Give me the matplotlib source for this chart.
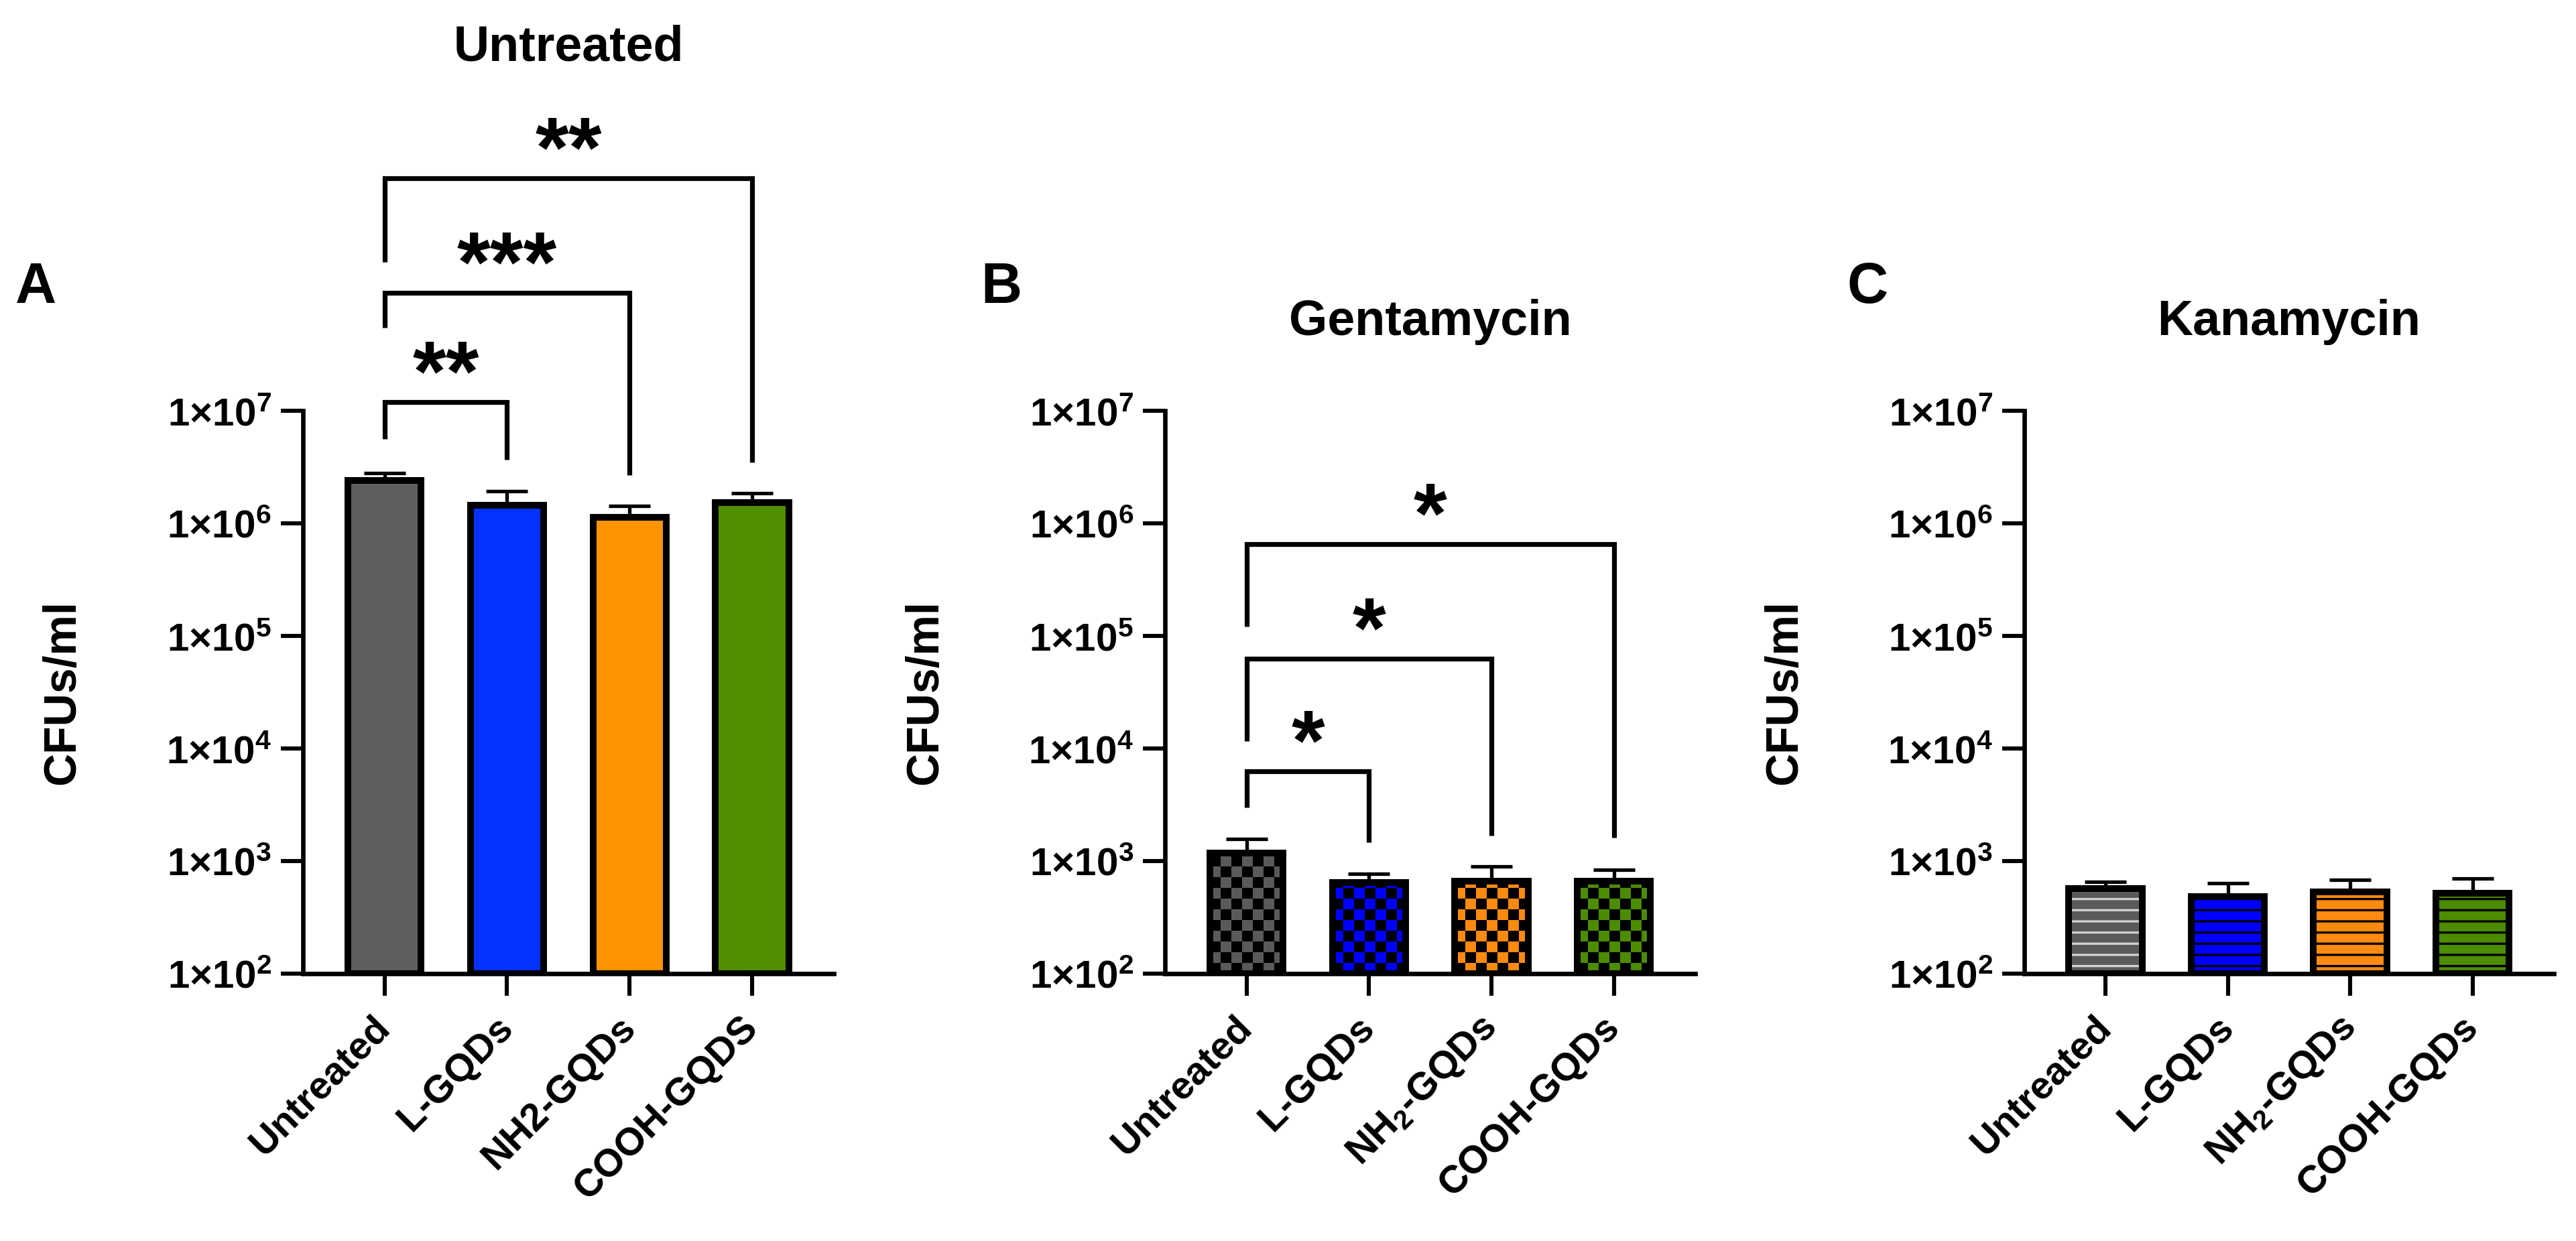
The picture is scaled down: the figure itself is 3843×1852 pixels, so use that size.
import numpy as np
import matplotlib
matplotlib.use("Agg")
import matplotlib.pyplot as plt
from matplotlib.patches import Rectangle
from matplotlib.collections import PatchCollection
from matplotlib.transforms import IdentityTransform
from matplotlib.ticker import FixedLocator, NullLocator

plt.rcParams.update({
    "font.family": ["Liberation Sans", "DejaVu Sans"],
    "font.weight": "bold",
    "mathtext.fontset": "custom",
    "mathtext.rm": "Liberation Sans:bold",
    "mathtext.bf": "Liberation Sans:bold",
    "mathtext.default": "bf",
    "hatch.linewidth": 1.2,
})

# ---- data (CFUs/ml, mean and upper SD) ----
labels_a = ["Untreated", "L-GQDs", "NH2-GQDs", "COOH-GQDS"]
labels_bc = ["Untreated", "L-GQDs", "NH$_2$-GQDs", "COOH-GQDs"]

untreated_mean = [2.42e6, 1.45e6, 1.13e6, 1.53e6]
untreated_sd = [0.38e6, 0.49e6, 0.29e6, 0.33e6]
genta_mean = [1180, 645, 663, 663]
genta_sd = [390, 126, 233, 174]
kana_mean = [573, 486, 532, 516]
kana_sd = [84, 151, 152, 184]

# significance brackets: (group a, group b, label, top, left leg end, right leg end)
sig_a = [(0, 1, "**", 1.2e7, 5.6e6, 3.7e6),
         (0, 2, "***", 1.12e8, 5.5e7, 2.7e6),
         (0, 3, "**", 1.16e9, 2.1e8, 3.5e6)]
sig_b = [(0, 1, "*", 6.3e3, 2990, 1470),
         (0, 2, "*", 6.3e4, 1.16e4, 1680),
         (0, 3, "*", 6.5e5, 1.21e5, 1615)]

colors_a = ["#5E5E5E", "#0433FF", "#FF9300", "#4F8F00"]
colors_bc = ["#5A5A5A", "#0000FF", "#FF8A10", "#4C8C00"]
stripe_colors = ["#D0D0D0", "black", "black", "black"]

FLOOR = 1e2
decades = [1e2, 1e3, 1e4, 1e5, 1e6, 1e7]
decade_labels = [r"$1×10^{%d}$" % k for k in range(2, 8)]

W, H, DPI = 3843, 1852, 200
fig = plt.figure(figsize=(W / DPI, H / DPI), dpi=DPI)

BOT, HGT = 0.2154, 0.4536
ax_a = fig.add_axes([0.1176, BOT, 0.2061, HGT])
ax_b = fig.add_axes([0.4523, BOT, 0.2058, HGT])
ax_c = fig.add_axes([0.7858, BOT, 0.2056, HGT])

BAR_W = 0.60
EDGE = 3.6


def setup(ax, labels):
    ax.set_yscale("log")
    ax.set_ylim(FLOOR, 1e7)
    ax.set_xlim(-0.665, 3.665)
    for s in ("top", "right"):
        ax.spines[s].set_visible(False)
    for s in ("left", "bottom"):
        ax.spines[s].set_linewidth(2.4)
    ax.yaxis.set_major_locator(FixedLocator(decades))
    ax.yaxis.set_minor_locator(NullLocator())
    ax.set_yticklabels(decade_labels, fontsize=21)
    ax.set_xticks(range(len(labels)))
    ax.set_xticklabels(labels, rotation=45, ha="right", va="center",
                       rotation_mode="anchor", fontsize=20.8)
    ax.tick_params(axis="both", length=12, width=2.2)
    ax.tick_params(axis="y", pad=5)
    ax.tick_params(axis="x", pad=14)
    ax.set_ylabel("CFUs/ml", fontsize=24.5, fontweight="bold", va="center")
    ax.yaxis.set_label_coords(-0.453, 0.5)


def bars(ax, mean, sd, colors, **kw):
    x = np.arange(len(mean))
    h = np.array(mean) - FLOOR
    faces = ax.bar(x, h, bottom=FLOOR, width=BAR_W, color=colors,
                   linewidth=0, zorder=2, **kw)
    ax.bar(x, h, bottom=FLOOR, width=BAR_W, fill=False, edgecolor="black",
           linewidth=EDGE, zorder=3)
    ax.errorbar(x, mean, yerr=[np.zeros(len(sd)), sd], fmt="none",
                ecolor="black", elinewidth=1.9, capsize=11.3, capthick=1.9,
                zorder=2.5)
    return faces


def checker(ax, faces, cell=16):
    for p in faces.patches:
        bb = p.get_window_extent()
        nx = int(np.ceil(bb.width / cell)) + 1
        ny = int(np.ceil(bb.height / cell)) + 1
        sq = [Rectangle((bb.x0 + i * cell, bb.y0 + j * cell), cell, cell)
              for i in range(nx) for j in range(ny) if (i + j) % 2 == 0]
        coll = PatchCollection(sq, facecolor="black", edgecolor="none",
                               transform=IdentityTransform(), zorder=2.2)
        ax.add_collection(coll, autolim=False)
        coll.set_clip_path(p)


def brackets(ax, sig, fontsize):
    for a, b, txt, top, left_end, right_end in sig:
        ax.plot([a, a, b, b], [left_end, top, top, right_end], color="black",
                lw=2.6, clip_on=False, solid_joinstyle="miter",
                solid_capstyle="butt", zorder=4)
        ax.annotate(txt, xy=((a + b) / 2, top), xytext=(0, 1),
                    textcoords="offset points", ha="center", va="baseline",
                    fontsize=fontsize, fontweight="bold",
                    annotation_clip=False)


for ax, labels in ((ax_a, labels_a), (ax_b, labels_bc), (ax_c, labels_bc)):
    setup(ax, labels)

bars(ax_a, untreated_mean, untreated_sd, colors_a)
faces_b = bars(ax_b, genta_mean, genta_sd, colors_bc)
checker(ax_b, faces_b)
bars(ax_c, kana_mean, kana_sd, colors_bc, hatch="--", edgecolor=stripe_colors)

brackets(ax_a, sig_a, 46)
brackets(ax_b, sig_b, 46)

# titles and panel letters
fig.text(0.2207, 0.951, "Untreated", ha="center", va="baseline",
         fontsize=26.5, fontweight="bold")
fig.text(0.5552, 0.730, "Gentamycin", ha="center", va="baseline",
         fontsize=26.5, fontweight="bold")
fig.text(0.8886, 0.730, "Kanamycin", ha="center", va="baseline",
         fontsize=26.5, fontweight="bold")
for x, letter in ((0.006, "A"), (0.3807, "B"), (0.717, "C")):
    fig.text(x, 0.756, letter, ha="left", va="baseline", fontsize=30.5,
             fontweight="bold")

fig.savefig("out.png", dpi=DPI)
